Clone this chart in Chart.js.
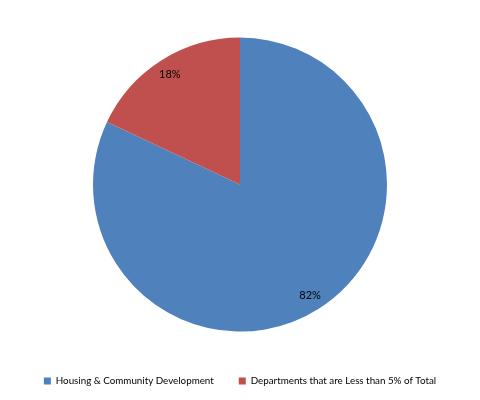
<!DOCTYPE html>
<html>
<head>
<meta charset="utf-8">
<script src="https://cdn.jsdelivr.net/npm/chart.js@4/dist/chart.umd.min.js"></script>
<style>
  html, body { margin: 0; padding: 0; background: #fff; }
  #wrap { width: 480px; height: 400px; }
</style>
</head>
<body>
<div id="wrap"><canvas id="pieChart" width="480" height="400"></canvas></div>
<script>
const categories = ["Housing & Community Development", "Departments that are Less than 5% of Total"];
const shares = [82, 18];
const sliceColors = ["#4F81BD", "#C0504D"];

const FONT = "Lato, 'Open Sans', 'Liberation Sans', sans-serif";

// percent labels placed inside each slice, near the rim
const sliceLabels = {
  id: "sliceLabels",
  afterDatasetsDraw(chart) {
    const ctx = chart.ctx;
    const meta = chart.getDatasetMeta(0);
    ctx.save();
    ctx.font = "11px " + FONT;
    ctx.fillStyle = "#000";
    ctx.textAlign = "center";
    ctx.textBaseline = "middle";
    meta.data.forEach((arc, i) => {
      const p = arc.getProps(["x", "y", "startAngle", "endAngle", "outerRadius"], true);
      const mid = (p.startAngle + p.endAngle) / 2;
      const r = p.outerRadius * 0.89;
      ctx.fillText(shares[i] + "%", p.x + Math.cos(mid) * r, p.y + Math.sin(mid) * r);
    });
    ctx.restore();
  },
};

new Chart(document.getElementById("pieChart").getContext("2d"), {
  type: "pie",
  data: {
    labels: categories,
    datasets: [
      {
        data: shares,
        backgroundColor: sliceColors,
        borderWidth: 0,
      },
    ],
  },
  options: {
    responsive: false,
    animation: false,
    radius: 147,
    layout: { padding: { top: 18, bottom: 4 } },
    plugins: {
      tooltip: { enabled: false },
      legend: {
        position: "bottom",
        labels: {
          boxWidth: 7,
          boxHeight: 7,
          padding: 25,
          color: "#000",
          font: { family: FONT, size: 9.8 },
        },
      },
    },
  },
  plugins: [sliceLabels],
});
</script>
</body>
</html>
